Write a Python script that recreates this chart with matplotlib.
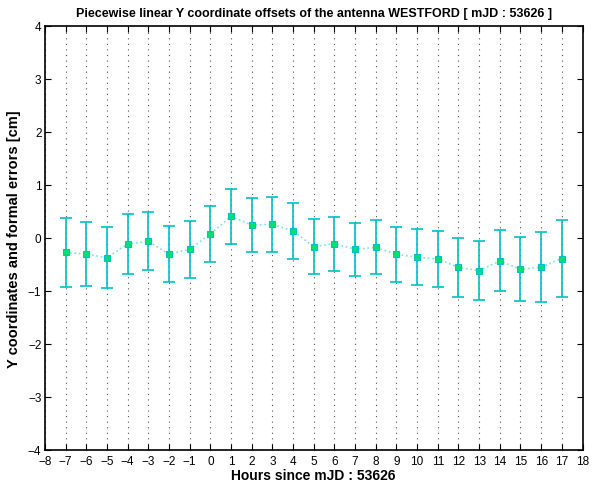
import numpy as np
import matplotlib
matplotlib.use("Agg")
import matplotlib.pyplot as plt

# ─── Data ─────────────────────────────────────────────────────────────────────
hours = [-7, -6, -5, -4, -3, -2, -1, 0, 1, 2, 3, 4, 5, 6, 7, 8, 9, 10, 11, 12,
         13, 14, 15, 16, 17]
y_offset = [-0.275, -0.305, -0.375, -0.115, -0.065, -0.305, -0.215, 0.075,
            0.405, 0.24, 0.255, 0.13, -0.165, -0.11, -0.215, -0.18, -0.31,
            -0.365, -0.40, -0.555, -0.62, -0.435, -0.595, -0.55, -0.39]
y_error = [0.645, 0.605, 0.575, 0.565, 0.545, 0.525, 0.535, 0.525, 0.515,
           0.51, 0.525, 0.52, 0.515, 0.51, 0.495, 0.51, 0.52, 0.525, 0.53,
           0.555, 0.56, 0.575, 0.605, 0.66, 0.72]
x_ticks = list(range(-8, 19))
y_ticks = list(range(-4, 5))

plt.rcParams["font.family"] = ["Liberation Sans", "DejaVu Sans"]

fig = plt.figure(figsize=(5.99, 4.89), dpi=100)
ax = fig.add_axes([0.075, 0.078, 0.8975, 0.867])

ax.plot(hours, y_offset, linestyle=":", color="#7fe0e0", linewidth=1.2, zorder=2)
ax.errorbar(hours, y_offset, yerr=y_error, fmt="none", ecolor="#00c0c8",
            elinewidth=1.2, capsize=4.5, capthick=1.2, zorder=3)
ax.plot(hours, y_offset, linestyle="none", marker="s", markersize=4,
        markerfacecolor="#00e070", markeredgecolor="#00c0c8",
        markeredgewidth=0.8, zorder=4)

ax.set_xlim(-8, 18)
ax.set_ylim(-4, 4)
ax.set_xticks(x_ticks)
ax.set_yticks(y_ticks)
ax.set_xticklabels([str(t).replace("-", "\u2212") for t in x_ticks])
ax.set_yticklabels([str(t).replace("-", "\u2212") for t in y_ticks])
ax.tick_params(direction="in", top=True, right=True, labelsize=8.5,
               length=4, width=0.8)
ax.tick_params(axis="x", pad=3.5)
ax.tick_params(axis="y", pad=2.5)
ax.xaxis.grid(True, linestyle=(0, (1, 4)), color="#555555", linewidth=0.8)
for s in ax.spines.values():
    s.set_linewidth(1.2)

ax.set_title("Piecewise linear Y coordinate offsets of the antenna WESTFORD [ mJD : 53626 ]",
             fontsize=9, fontweight="bold", pad=7)
ax.set_xlabel("Hours since mJD : 53626", fontsize=10, fontweight="bold", labelpad=1)
ax.set_ylabel("Y coordinates and formal errors [cm]", fontsize=10.5,
              fontweight="bold", labelpad=5)

fig.savefig("out.png", dpi=100)
